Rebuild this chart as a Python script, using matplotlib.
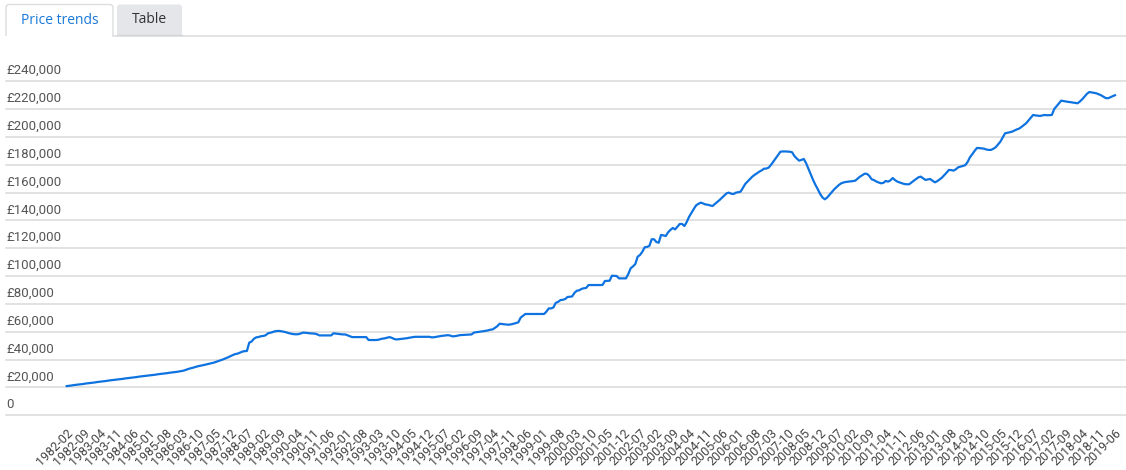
import matplotlib
matplotlib.use('Agg')
import matplotlib.pyplot as plt
import matplotlib.transforms as mtransforms
from matplotlib.patches import FancyBboxPatch, Rectangle
import pandas as pd

# average price per month (Feb 1982 - Jun 2019)
p1982 = [21000, 21200, 21400, 21700, 21900, 22100, 22300, 22500, 22800, 23000, 23200]
p1983 = [23400, 23600, 23900, 24100, 24300, 24500, 24700, 25000, 25200, 25400, 25600, 25800]
p1984 = [26000, 26200, 26500, 26700, 26900, 27100, 27300, 27500, 27800, 28000, 28200, 28400]
p1985 = [28600, 28800, 29000, 29200, 29500, 29700, 29900, 30100, 30300, 30600, 30800, 31000]
p1986 = [31200, 31500, 31800, 32100, 32700, 33300, 33800, 34200, 34700, 35200, 35600, 35900]
p1987 = [36300, 36700, 37100, 37500, 37900, 38500, 39100, 39700, 40300, 41000, 41700, 42500]
p1988 = [43300, 44000, 44300, 45000, 45700, 46100, 46200, 52200, 53000, 55000, 56000, 56300]
p1989 = [56800, 57000, 57500, 58900, 59300, 59800, 60400, 60600, 60600, 60300, 60000, 59500]
p1990 = [59000, 58600, 58300, 58200, 58300, 58800, 59400, 59300, 59100, 58900, 58800, 58700]
p1991 = [58200, 57400, 57400, 57400, 57400, 57400, 57400, 58900, 58700, 58500, 58300, 58100]
p1992 = [58100, 57500, 56800, 56200, 56200, 56200, 56200, 56200, 56200, 56200, 54100, 54100]
p1993 = [54100, 54100, 54200, 54700, 55100, 55300, 55800, 56200, 55600, 54800, 54500, 54700]
p1994 = [54900, 55100, 55300, 55600, 55900, 56200, 56400, 56400, 56400, 56400, 56400, 56400]
p1995 = [56400, 56000, 56100, 56400, 56700, 57000, 57200, 57400, 57600, 57200, 56700, 56900]
p1996 = [57200, 57600, 57700, 57800, 57900, 58000, 58100, 59400, 59700, 59900, 60200, 60400]
p1997 = [60700, 61000, 61500, 61700, 62800, 64000, 65800, 65600, 65400, 65200, 65100, 65400]
p1998 = [65800, 66300, 66800, 70200, 71500, 72800, 72800, 72800, 72800, 72800, 72800, 72800]
p1999 = [72800, 72800, 74500, 76800, 76800, 77500, 80800, 81500, 82800, 83000, 83500, 85000]
p2000 = [85200, 85400, 88000, 89500, 89800, 90800, 91300, 91500, 93600, 93600, 93600, 93600]
p2001 = [93600, 93600, 93700, 96500, 96600, 96700, 100300, 100200, 100100, 98400, 98400, 98400]
p2002 = [98400, 101500, 105600, 107000, 108700, 114000, 115200, 117500, 120700, 121000, 121700, 126500]
p2003 = [126500, 124500, 124000, 129600, 129300, 128800, 131500, 133200, 134600, 133600, 135500, 137500]
p2004 = [137500, 136000, 139000, 142700, 145500, 148300, 150900, 152000, 152800, 152200, 151500, 151300]
p2005 = [150800, 150400, 151800, 153300, 154700, 156300, 158000, 159500, 160000, 159200, 159000, 160000]
p2006 = [160300, 160700, 163500, 166300, 168000, 169800, 171500, 172800, 173900, 175100, 176000, 177200]
p2007 = [177300, 178000, 180000, 182300, 184600, 187000, 189400, 189600, 189600, 189500, 189400, 189000]
p2008 = [186300, 184500, 183000, 183500, 184200, 181100, 177000, 172700, 169000, 165500, 162400, 159000]
p2009 = [156500, 155200, 156500, 158500, 160500, 162400, 164000, 165500, 166700, 167300, 167700, 167900]
p2010 = [168100, 168300, 168600, 170000, 171500, 172500, 173600, 173500, 172000, 169600, 169000, 168000]
p2011 = [167300, 166700, 167000, 168400, 167900, 168800, 170500, 169000, 167900, 167300, 166700, 166200]
p2012 = [166000, 166000, 167300, 168600, 169800, 171000, 171500, 170300, 169100, 169500, 169800, 168600]
p2013 = [167400, 168200, 169500, 170700, 172500, 174300, 176300, 176200, 175800, 176800, 178200, 178700]
p2014 = [179200, 179700, 182000, 185400, 187600, 190000, 192100, 192000, 191800, 191600, 191000, 190700]
p2015 = [190700, 191500, 192600, 194600, 196600, 199600, 202600, 203000, 203400, 203800, 204600, 205400]
p2016 = [206000, 207200, 208500, 209800, 211800, 213800, 215800, 215500, 215300, 215100, 215500, 215800]
p2017 = [215600, 215700, 215800, 220000, 222000, 224000, 226100, 225800, 225500, 225200, 225000, 224700]
p2018 = [224500, 224200, 225500, 227100, 229000, 231000, 232300, 232000, 231700, 231400, 230700, 230000]
p2019 = [229000, 228000, 227800, 228500, 229300, 230000]

prices = (p1982 + p1983 + p1984 + p1985 + p1986 + p1987 + p1988 + p1989 + p1990
          + p1991 + p1992 + p1993 + p1994 + p1995 + p1996 + p1997 + p1998 + p1999
          + p2000 + p2001 + p2002 + p2003 + p2004 + p2005 + p2006 + p2007 + p2008
          + p2009 + p2010 + p2011 + p2012 + p2013 + p2014 + p2015 + p2016 + p2017
          + p2018 + p2019)
months = [str(p) for p in pd.period_range('1982-02', '2019-06', freq='M')]
y_ticks = [0, 20000, 40000, 60000, 80000, 100000, 120000, 140000, 160000,
           180000, 200000, 220000, 240000]
tabs = ['Price trends', 'Table']

W, H = 1126, 470
fig = plt.figure(figsize=(W / 100, H / 100), dpi=100)

# main chart area (pixel layout of the reference)
ax = fig.add_axes([6 / W, (H - 415.3) / H, 1120 / W, 334 / H])
ax.set_xlim(-25.95, 452.7)
ax.set_ylim(0, 240000)
for s in ax.spines.values():
    s.set_visible(False)

for v in y_ticks:
    ax.axhline(v, color='#dadada', lw=1.1, zorder=0, clip_on=False)
    lab = '0' if v == 0 else '£{:,}'.format(v)
    tr = mtransforms.offset_copy(ax.get_yaxis_transform(), fig=fig, x=0, y=3, units='points')
    ax.text(0, v, lab, transform=tr, ha='left', va='bottom',
            fontsize=9.5, family='Roboto', color='#555555')

ax.plot(range(len(prices)), prices, color='#0e73e0', lw=1.6, solid_joinstyle='round', zorder=3)

ax.set_yticks([])
tick_pos = list(range(0, len(months), 7))
ax.set_xticks(tick_pos)
ax.set_xticklabels([months[i] for i in tick_pos], rotation=45, ha='right', va='top',
                   rotation_mode='anchor', fontsize=9, family='Roboto', color='#444444')
ax.tick_params(axis='x', length=0, pad=8)

# tabs on top
ov = fig.add_axes([0, 0, 1, 1], zorder=5)
ov.set_xlim(0, W)
ov.set_ylim(H, 0)
ov.axis('off')
ov.plot([113, W], [35.5, 35.5], color='#dddddd', lw=1.1)
ov.add_patch(FancyBboxPatch((117, 4.5), 65, 40, boxstyle='round,pad=0,rounding_size=3',
                            fc='#e5e6e9', ec='none'))
ov.add_patch(Rectangle((116, 35), 70, 12, fc='white', ec='none'))
ov.plot([117, 182], [34.8, 34.8], color='#d4d5d8', lw=1.0)
ov.add_patch(FancyBboxPatch((6, 4.5), 107, 40, boxstyle='round,pad=0,rounding_size=3',
                            fc='white', ec='#dddddd', lw=1.0))
ov.add_patch(Rectangle((4, 36), 112, 12, fc='white', ec='none'))
ov.text(59.5, 20, tabs[0], ha='center', va='center', fontsize=10, family='Open Sans', color='#1a78d8')
ov.text(149.5, 19.5, tabs[1], ha='center', va='center', fontsize=10, family='Open Sans', color='#333333')

fig.savefig('out.png', dpi=100)
